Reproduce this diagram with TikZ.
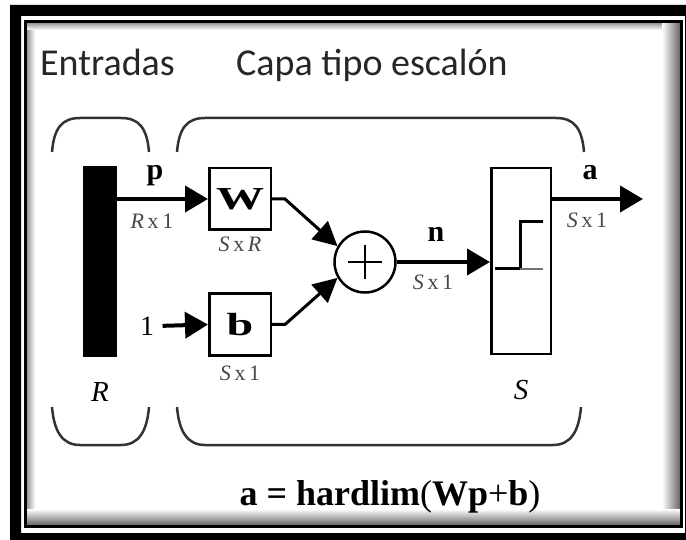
\documentclass[tikz,border=0pt]{standalone}
\usepackage{fontspec}
\setmainfont{Liberation Serif}
\newfontfamily\carlitofam{Carlito}
\newfontfamily\widebf[FakeStretch=1.5]{Liberation Serif Bold}
\usetikzlibrary{arrows.meta}
\begin{document}
\begin{tikzpicture}[x=1pt,y=-1pt,
  sig/.style={line width=4pt,-{Triangle[length=23pt,width=26pt]}},
  thinsig/.style={line width=3pt,-{Triangle[length=24pt,width=24pt]}},
  blk/.style={draw,line width=2.5pt,minimum width=61.5pt,minimum height=61.5pt,inner sep=0pt},
  bold/.style={font=\fontsize{30}{30}\selectfont\bfseries},
  widelab/.style={font=\fontsize{32}{32}\selectfont\widebf},
  dim/.style={font=\fontsize{22}{22}\selectfont,text=black!72},
  head/.style={font=\fontsize{38}{38}\selectfont\carlitofam,text=black!85},
  brace/.style={line width=2.5pt,draw=black!80},
  ital/.style={font=\fontsize{29}{29}\selectfont\itshape}]
\useasboundingbox (0,0) rectangle (686,540);
% frame
\fill[white] (0,0) rectangle (686,540);
\fill[black,even odd rule] (10,5) rectangle (700,560) (21,16) rectangle (685,533);
\shade[left color=black!40,right color=white] (27,23) rectangle (35,525);
\shade[top color=black!40,bottom color=white] (27,23) rectangle (680,30);
\shade[left color=white,right color=black!60] (662,23) rectangle (680,525);
\shade[top color=white,bottom color=black!60] (27,509) rectangle (680,525);
\draw[line width=3pt] (25.5,21.5) rectangle (681.5,526.5);
% headings
\node[head,anchor=base west,inner sep=0pt] (hin) at (40,76) {Entradas};
\node[head,anchor=base west,inner sep=0pt] (hlay) at (236,76) {Capa tipo escal\'on};
% braces
\draw[brace] (52,152) .. controls (54,128) and (62,118) .. (80,118) -- (121,118) .. controls (139,118) and (147,128) .. (149,152);
\draw[brace] (177,152) .. controls (179,128) and (187,118) .. (205,118) -- (556,118) .. controls (574,118) and (582,128) .. (584,152);
\draw[brace] (52,407) .. controls (54,431) and (62,445) .. (80,445) -- (121,445) .. controls (139,445) and (147,431) .. (149,407);
\draw[brace] (177,407) .. controls (179,431) and (187,445) .. (205,445) -- (553,445) .. controls (571,445) and (579,431) .. (581,407);
% blocks
\node[fill=black,minimum width=34pt,minimum height=191pt,inner sep=0pt] (bar) at (100,261.5) {};
\node[blk,widelab] (W) at (240,199) {W};
\node[blk,widelab] (b) at (240,324.5) {b};
\node[circle,draw,line width=2.5pt,minimum size=61pt,inner sep=0pt] (sum) at (365,262) {};
\draw[line width=2.5pt] ([xshift=-17pt]sum.center) -- ([xshift=17pt]sum.center);
\draw[line width=2.5pt] ([yshift=-17pt]sum.center) -- ([yshift=17pt]sum.center);
\node[draw,line width=2.5pt,minimum width=59.5pt,minimum height=185.5pt,inner sep=0pt] (S) at (521,261) {};
\draw[line width=3pt] (495,269) -- (520,269) -- (520,222) -- (543,222);
\draw[line width=1.5pt,black!55] (520,269) -- (543,269);
\node[font=\fontsize{28}{28}\selectfont] (one) at (147,326) {1};
\coordinate (aend) at (643,199);
% connectors
\draw[sig] (bar.east |- W.west) -- (W.west);
\draw[sig,shorten <=5pt] (one.east) -- (b.west);
\draw[thinsig] (W.east) -- ++(13,0) -- (sum.150);
\draw[thinsig] (b.east) -- ++(13,0) -- (sum.210);
\draw[sig] (sum.east) -- (S.west |- sum.east);
\draw[sig] (S.east |- W.east) -- (aend);
% labels
\node[bold] (lp) at (155,176) {p};
\node[dim] (lrx) at (152,221) {\textit{R}\,x\,1};
\node[dim] (lsr) at (240,244) {\textit{S}\,x\,\textit{R}};
\node[dim] (lsb) at (240,373) {\textit{S}\,x\,1};
\node[bold] (ln) at (436,234) {n};
\node[dim] (lsn) at (433,282) {\textit{S}\,x\,1};
\node[bold] (la) at (590,173) {a};
\node[dim] (lsa) at (587,220) {\textit{S}\,x\,1};
\node[ital] (lR) at (100,392) {R};
\node[ital] (lS) at (521,390) {S};
\node[font=\fontsize{36}{36}\selectfont\bfseries] (form) at (390,497) {a = hardlim{\mdseries(}Wp{\mdseries+}b{\mdseries)}};
\end{tikzpicture}
\end{document}
